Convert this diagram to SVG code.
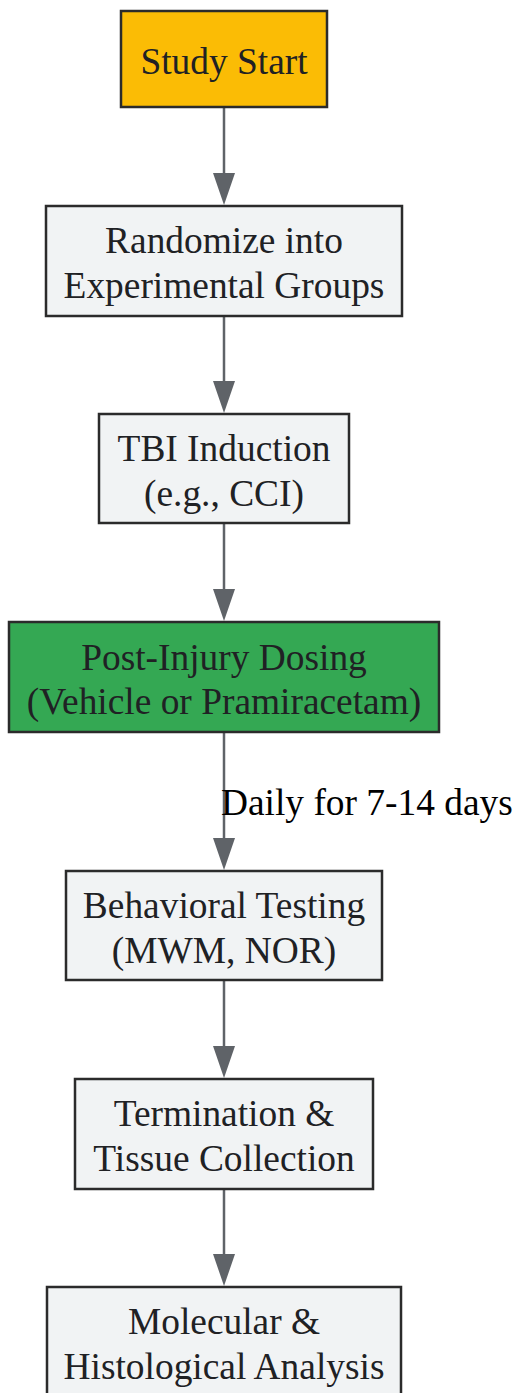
<svg xmlns="http://www.w3.org/2000/svg" width="515" height="1393" viewBox="0 0 515 1393">
<style>
.n rect{stroke:#2b2b2b;stroke-width:2.5}
.g rect{fill:#F1F3F4}
.n text{font-family:"Liberation Serif","Times New Roman",serif;font-size:37.4px;fill:#202124;text-anchor:middle}
.e line{stroke:#5f6368;stroke-width:2.5}
.e polygon{fill:#5f6368}
.lbl{font-family:"Liberation Serif","Times New Roman",serif;font-size:37.4px;fill:#000}
</style>
<rect width="515" height="1393" fill="#ffffff"/>
<g id="edges" class="e">
<line x1="224" y1="107" x2="224" y2="180"/><polygon points="213,173 235,173 224,205"/>
<line x1="224" y1="316" x2="224" y2="388"/><polygon points="213,381 235,381 224,413"/>
<line x1="224" y1="523" x2="224" y2="596"/><polygon points="213,589 235,589 224,621"/>
<line x1="224" y1="732" x2="224" y2="845"/><polygon points="213,838 235,838 224,870"/>
<line x1="224" y1="980" x2="224" y2="1053"/><polygon points="213,1046 235,1046 224,1078"/>
<line x1="224" y1="1189" x2="224" y2="1261"/><polygon points="213,1254 235,1254 224,1286"/>
<text class="lbl" x="221" y="815">Daily for 7-14 days</text>
</g>
<g id="n1" class="n"><rect x="121" y="11" width="206" height="96" fill="#FBBC05"/><text x="224" y="74">Study Start</text></g>
<g id="n2" class="n g"><rect x="46" y="206" width="356" height="110"/><text x="224" y="253">Randomize into</text><text x="224" y="298">Experimental Groups</text></g>
<g id="n3" class="n g"><rect x="99" y="414" width="250" height="109"/><text x="224" y="461">TBI Induction</text><text x="224" y="506">(e.g., CCI)</text></g>
<g id="n4" class="n"><rect x="9" y="622" width="430" height="110" fill="#34A853"/><text x="224" y="670">Post-Injury Dosing</text><text x="224" y="714">(Vehicle or Pramiracetam)</text></g>
<g id="n5" class="n g"><rect x="66" y="871" width="316" height="109"/><text x="224" y="918">Behavioral Testing</text><text x="224" y="963">(MWM, NOR)</text></g>
<g id="n6" class="n g"><rect x="75" y="1079" width="298" height="110"/><text x="224" y="1126">Termination &amp;</text><text x="224" y="1171">Tissue Collection</text></g>
<g id="n7" class="n g"><rect x="47" y="1287" width="354" height="112"/><text x="224" y="1334">Molecular &amp;</text><text x="224" y="1379">Histological Analysis</text></g>
</svg>
